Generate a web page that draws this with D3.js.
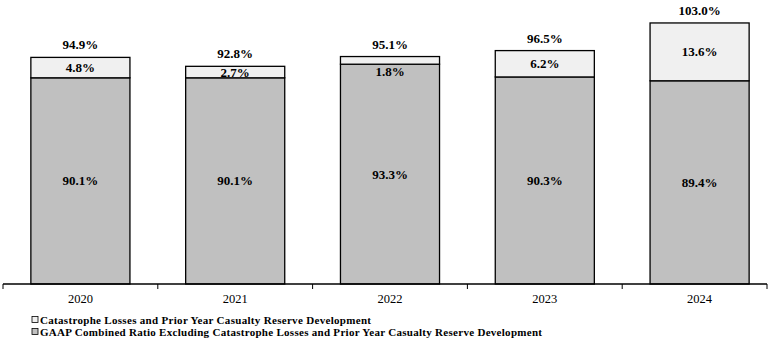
<!DOCTYPE html>
<html>
<head>
<meta charset="utf-8">
<script src="https://cdn.jsdelivr.net/npm/d3@7"></script>
<style>
  html, body { margin: 0; padding: 0; background: #fff; }
  svg { display: block; }
</style>
</head>
<body>
<svg id="chart" width="779" height="344"></svg>
<script>
const years = ["2020", "2021", "2022", "2023", "2024"];
const gaapExCat = [90.1, 90.1, 93.3, 90.3, 89.4];
const catLosses = [4.8, 2.7, 1.8, 6.2, 13.6];
const totals = [94.9, 92.8, 95.1, 96.5, 103.0];
const legendLabels = [
  "Catastrophe Losses and Prior Year Casualty Reserve Development",
  "GAAP Combined Ratio Excluding Catastrophe Losses and Prior Year Casualty Reserve Development"
];

const svg = d3.select("#chart");
const serif = "'Liberation Serif', 'Times New Roman', serif";
const baseY = 284;
const axisEnd = 767;

const x = d3.scaleBand().domain(years).range([3, 777]).paddingInner(0.36).paddingOuter(0.18);
const y = d3.scaleLinear().domain([41.6, 108.4]).range([baseY, 0]);

const fills = { cat: "#f0f0f0", gaap: "#c0c0c0" };

const data = years.map((yr, i) => ({ yr, gaap: gaapExCat[i], cat: catLosses[i], total: totals[i] }));

const g = svg.append("g");

// GAAP segment
g.selectAll("rect.gaap").data(data).join("rect")
  .attr("class", "gaap")
  .attr("x", d => x(d.yr))
  .attr("width", x.bandwidth())
  .attr("y", d => y(d.gaap))
  .attr("height", d => baseY - y(d.gaap))
  .attr("fill", fills.gaap)
  .attr("stroke", "#000").attr("stroke-width", 1.3);

// Cat segment
g.selectAll("rect.cat").data(data).join("rect")
  .attr("class", "cat")
  .attr("x", d => x(d.yr))
  .attr("width", x.bandwidth())
  .attr("y", d => y(d.gaap + d.cat))
  .attr("height", d => y(d.gaap) - y(d.gaap + d.cat))
  .attr("fill", fills.cat)
  .attr("stroke", "#000").attr("stroke-width", 1.3);

// Axis
const axisG = svg.append("g").attr("transform", `translate(0,${baseY})`);
axisG.append("line").attr("x1", 3).attr("x2", axisEnd).attr("y1", 0).attr("y2", 0)
  .attr("stroke", "#000").attr("stroke-width", 1.5);
const step = x.step();
const boundaries = d3.range(years.length + 1)
  .map(i => Math.min(axisEnd, x(years[0]) - x.paddingOuter() * step + i * step));
axisG.selectAll("line.tick").data(boundaries).join("line")
  .attr("class", "tick")
  .attr("x1", d => d).attr("x2", d => d).attr("y1", 0).attr("y2", 5)
  .attr("stroke", "#000").attr("stroke-width", 1);
axisG.selectAll("text.yr").data(years).join("text")
  .attr("class", "yr")
  .attr("x", d => x(d) + x.bandwidth() / 2)
  .attr("y", 19)
  .attr("text-anchor", "middle")
  .attr("font-family", serif).attr("font-size", 12.5)
  .text(d => d);

const fmt = v => v.toFixed(1) + "%";

// Labels
g.selectAll("text.gaapLbl").data(data).join("text")
  .attr("class", "gaapLbl")
  .attr("x", d => x(d.yr) + x.bandwidth() / 2)
  .attr("y", d => (y(d.gaap) + baseY) / 2)
  .attr("dy", "0.35em")
  .attr("text-anchor", "middle")
  .attr("font-family", serif).attr("font-size", 13).attr("font-weight", "bold")
  .text(d => fmt(d.gaap));

g.selectAll("text.catLbl").data(data).join("text")
  .attr("class", "catLbl")
  .attr("x", d => x(d.yr) + x.bandwidth() / 2)
  .attr("y", d => {
    const top = y(d.gaap + d.cat), bot = y(d.gaap);
    return (bot - top) < 10 ? bot + 7 : (top + bot) / 2;
  })
  .attr("dy", "0.35em")
  .attr("text-anchor", "middle")
  .attr("font-family", serif).attr("font-size", 13).attr("font-weight", "bold")
  .text(d => fmt(d.cat));

g.selectAll("text.totLbl").data(data).join("text")
  .attr("class", "totLbl")
  .attr("x", d => x(d.yr) + x.bandwidth() / 2)
  .attr("y", d => y(d.total) - 8)
  .attr("text-anchor", "middle")
  .attr("font-family", serif).attr("font-size", 13).attr("font-weight", "bold")
  .text(d => fmt(d.total));

// Legend
const legendFills = [fills.cat, fills.gaap];
const legendWidths = [331, 502];
const lg = svg.append("g");
legendLabels.forEach((lbl, i) => {
  const by = 324 + i * 12;
  lg.append("rect").attr("x", 32).attr("y", by - 7.5).attr("width", 6).attr("height", 6)
    .attr("fill", legendFills[i]).attr("stroke", "#000").attr("stroke-width", 0.8);
  lg.append("text").attr("x", 40).attr("y", by)
    .attr("font-family", serif).attr("font-size", 11).attr("font-weight", "bold")
    .attr("textLength", legendWidths[i]).attr("lengthAdjust", "spacing")
    .text(lbl);
});
</script>
</body>
</html>
